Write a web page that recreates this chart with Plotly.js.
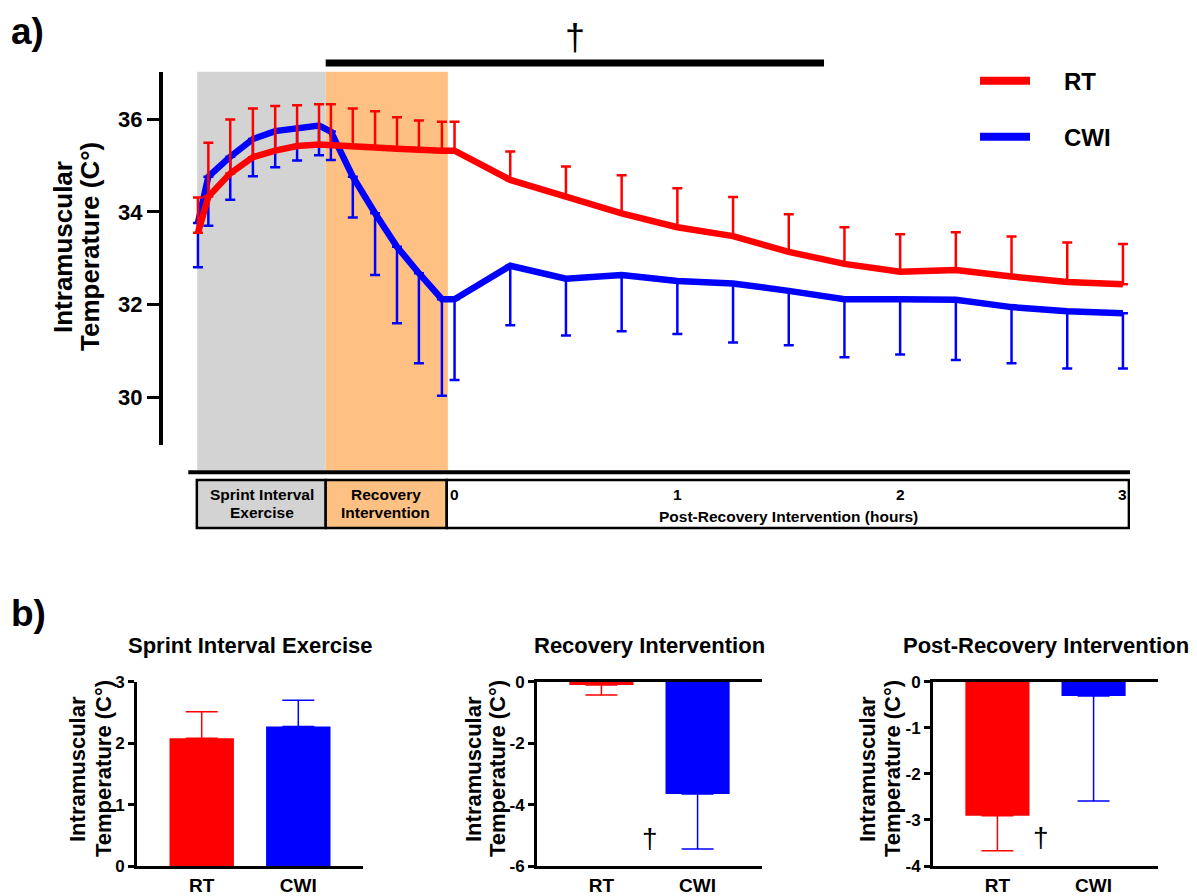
<!DOCTYPE html>
<html><head><meta charset="utf-8">
<script src="https://cdn.plot.ly/plotly-3.0.1.min.js"></script>
<style>html,body{margin:0;padding:0;background:#fff;} #chart{width:1197px;height:896px;}</style>
</head><body><div id="chart"></div>
<script>
// ---------- DATA (panel a) ----------
// time positions (post-recovery in minutes; exercise & recovery samples before 0)
const exerciseTime = [-69.1, -66.3, -60.4, -54.3, -48.3, -42.4, -36.5];
const recoveryTime = [-33.3, -27.4, -21.4, -15.5, -9.6, -3.4];
const postTime = [0, 15, 30, 45, 60, 75, 90, 105, 120, 135, 150, 165, 180];

const rtMean = [33.55, 34.33, 34.83, 35.18, 35.32, 35.42, 35.45,
                35.43, 35.42, 35.39, 35.36, 35.33, 35.32,
                35.32, 34.69, 34.33, 33.97, 33.67, 33.48, 33.14, 32.88, 32.71, 32.75, 32.61, 32.49, 32.44];
const rtUpper = [34.31, 35.49, 35.99, 36.23, 36.28, 36.30, 36.32,
                 36.32, 36.23, 36.17, 36.04, 35.97, 35.94,
                 35.94, 35.30, 34.98, 34.79, 34.51, 34.32, 33.95, 33.67, 33.52, 33.56, 33.47, 33.34, 33.31];
const cwiMean = [33.76, 34.76, 35.19, 35.57, 35.74, 35.80, 35.86,
                 35.73, 34.76, 33.97, 33.25, 32.68, 32.12,
                 32.12, 32.84, 32.56, 32.64, 32.51, 32.46, 32.30, 32.12, 32.12, 32.11, 31.95, 31.86, 31.82];
const cwiLower = [32.81, 33.70, 34.26, 34.77, 34.96, 35.11, 35.22,
                  35.12, 33.88, 32.64, 31.60, 30.74, 30.04,
                  30.38, 31.56, 31.34, 31.43, 31.37, 31.19, 31.13, 30.87, 30.93, 30.81, 30.74, 30.63, 30.63];
const hourLabels = [0, 1, 2, 3];
const yTicksA = [30, 32, 34, 36];
const phaseStart = -69.3, phaseSplit = -34.7, phaseEnd = -1.8;

// ---------- DATA (panel b) ----------
const groups = ['RT', 'CWI'];
const sieChange = [2.08, 2.27];   const sieSD = [0.43, 0.43];
const recChange = [-0.11, -3.66]; const recSD = [0.32, 1.79];
const postChange = [-2.91, -0.31]; const postSD = [0.76, 2.28];
const sieTicks = [0, 1, 2, 3];
const recTicks = [-6, -4, -2, 0];
const postTicks = [-4, -3, -2, -1, 0];

// ---------- helpers ----------
const W = 1197, H = 896;
const PX = x => x / W;
const PY = y => 1 - y / H;
const FAM = 'Liberation Sans, Arial, Helvetica, sans-serif';
const RED = '#ff0000', BLUE = '#0000ff';
const colors = [RED, BLUE];

const timeAll = [...exerciseTime, ...recoveryTime, ...postTime];
const xr0 = -71.7, xr1 = 181.9;

const traces = [];
// CWI first (drawn under RT)
traces.push({
  type: 'scatter', mode: 'lines', x: timeAll, y: cwiMean, xaxis: 'x', yaxis: 'y',
  line: {color: BLUE, width: 6.5}, showlegend: false, hoverinfo: 'skip',
  error_y: {type: 'data', symmetric: false, array: cwiMean.map(() => 0),
            arrayminus: cwiMean.map((m, i) => +(m - cwiLower[i]).toFixed(3)),
            color: BLUE, thickness: 2.5, width: 5}
});
traces.push({
  type: 'scatter', mode: 'lines', x: timeAll, y: rtMean, xaxis: 'x', yaxis: 'y',
  line: {color: RED, width: 6.5}, showlegend: false, hoverinfo: 'skip',
  error_y: {type: 'data', symmetric: false, array: rtMean.map((m, i) => +(rtUpper[i] - m).toFixed(3)),
            arrayminus: rtMean.map(() => 0),
            color: RED, thickness: 2.5, width: 5}
});

const panels = [
  {vals: sieChange, sd: sieSD, ax: 2},
  {vals: recChange, sd: recSD, ax: 3},
  {vals: postChange, sd: postSD, ax: 4}
];
panels.forEach(p => {
  groups.forEach((g, i) => {
    const v = p.vals[i];
    traces.push({
      type: 'bar', x: [g], y: [v], xaxis: 'x' + p.ax, yaxis: 'y' + p.ax,
      width: 0.667, marker: {color: colors[i], line: {width: 0}},
      showlegend: false, hoverinfo: 'skip',
      error_y: {type: 'data', symmetric: false,
                array: [v >= 0 ? p.sd[i] : 0], arrayminus: [v >= 0 ? 0 : p.sd[i]],
                color: colors[i], thickness: 1.5, width: 16}
    });
  });
});

const bY = [PY(866), PY(681.7)];
const bTickFont = {family: FAM, size: 17, color: '#000', weight: 'bold'};
const bCatFont = {family: FAM, size: 19, color: '#000', weight: 'bold'};
function barX(d0, d1, anchor, mirror) {
  return {domain: [PX(d0), PX(d1)], anchor: anchor, type: 'category', categoryarray: groups,
          categoryorder: 'array', range: [-0.67, 1.67], showline: true, linewidth: 3, linecolor: '#000',
          mirror: mirror, ticks: '', tickfont: bCatFont, showgrid: false, zeroline: false, fixedrange: true};
}
function barY(anchor, range, tv) {
  return {domain: bY, anchor: anchor, range: range, tickvals: tv, ticktext: tv.map(v => String(v)),
          showline: true, linewidth: 3,
          linecolor: '#000', ticks: 'outside', ticklen: 6, tickwidth: 3, tickcolor: '#000',
          tickfont: bTickFont, showgrid: false, zeroline: false, fixedrange: true};
}

const shapes = [
  // phase shading
  {type: 'rect', xref: 'x', yref: 'paper', x0: phaseStart, x1: phaseSplit, y0: PY(470), y1: PY(71.7),
   fillcolor: '#d3d3d3', line: {width: 0}, layer: 'below'},
  {type: 'rect', xref: 'x', yref: 'paper', x0: phaseSplit, x1: phaseEnd, y0: PY(470), y1: PY(71.7),
   fillcolor: '#ffc183', line: {width: 0}, layer: 'below'},
  // base line
  {type: 'line', xref: 'x domain', yref: 'paper', x0: 0, x1: 1, y0: PY(472.3), y1: PY(472.3),
   line: {color: '#000', width: 4}},
  // bottom timeline box
  {type: 'rect', xref: 'x', yref: 'paper', x0: phaseStart - 0.1, x1: phaseSplit, y0: PY(528), y1: PY(480),
   fillcolor: '#d3d3d3', line: {color: '#000', width: 2.5}},
  {type: 'rect', xref: 'x', yref: 'paper', x0: phaseSplit, x1: phaseEnd - 0.3, y0: PY(528), y1: PY(480),
   fillcolor: '#ffc183', line: {color: '#000', width: 2.5}},
  {type: 'rect', xref: 'x', yref: 'paper', x0: phaseEnd - 0.3, x1: xr1 - 0.3, y0: PY(528), y1: PY(480),
   fillcolor: '#ffffff', line: {color: '#000', width: 2.5}},
  // significance bar
  {type: 'line', xref: 'x', yref: 'paper', x0: phaseSplit, x1: 99.5, y0: PY(63), y1: PY(63),
   line: {color: '#000', width: 7}},
  // legend
  {type: 'line', xref: 'paper', yref: 'paper', x0: PX(980), x1: PX(1030), y0: PY(80.7), y1: PY(80.7),
   line: {color: RED, width: 8}},
  {type: 'line', xref: 'paper', yref: 'paper', x0: PX(980), x1: PX(1030), y0: PY(136.7), y1: PY(136.7),
   line: {color: BLUE, width: 8}}
];

const ann = [];
function txt(text, x, y, size, opts) {
  ann.push(Object.assign({text: text, x: x, y: y, xref: 'paper', yref: 'paper', showarrow: false,
    xanchor: 'center', yanchor: 'middle', font: {family: FAM, size: size, color: '#000'}}, opts || {}));
}
txt('<b>a)</b>', PX(9), PY(31.5), 37, {xanchor: 'left'});
txt('<b>b)</b>', PX(9), PY(613.5), 37, {xanchor: 'left'});
txt('†', phaseSplit + (99.5 - phaseSplit) / 2, PY(37), 36, {xref: 'x'});
txt('<b>Intramuscular</b>', PX(63), PY(247), 26, {textangle: -90});
txt('<b>Temperature (C°)</b>', PX(90), PY(247), 26, {textangle: -90});
txt('<b>RT</b>', PX(1062), PY(82), 24, {xanchor: 'left'});
txt('<b>CWI</b>', PX(1062), PY(137.5), 24, {xanchor: 'left'});
txt('<b>Sprint Interval</b>', PX(261.7), PY(494.3), 15.5);
txt('<b>Exercise</b>', PX(261.7), PY(512.7), 15.5);
txt('<b>Recovery</b>', PX(385.7), PY(494.3), 15.5);
txt('<b>Intervention</b>', PX(385.7), PY(512.7), 15.5);
hourLabels.forEach(h => txt('<b>' + h + '</b>', h * 60, PY(494.3), 15.5, {xref: 'x'}));
txt('<b>Post-Recovery Intervention (hours)</b>', PX(788), PY(516), 15.5);

// panel b titles
const bTitles = ['Sprint Interval Exercise', 'Recovery Intervention', 'Post-Recovery Intervention'];
const bDom = [[137, 363], [537, 762], [933, 1158]];
const bYT = [[77, 103], [473, 497], [867, 892]];
bTitles.forEach((t, i) => {
  txt('<b>' + t + '</b>', PX((bDom[i][0] + bDom[i][1]) / 2), PY(645), 22);
  txt('<b>Intramuscular</b>', PX(bYT[i][0]), PY(769), 22, {textangle: -90});
  txt('<b>Temperature (C°)</b>', PX(bYT[i][1]), PY(769), 22, {textangle: -90});
});
txt('†', 0.5, -5.09, 28, {xref: 'x3', yref: 'y3'});
txt('†', 0.45, -3.39, 28, {xref: 'x4', yref: 'y4'});

const layout = {
  width: W, height: H, margin: {l: 0, r: 0, t: 0, b: 0},
  paper_bgcolor: '#fff', plot_bgcolor: 'rgba(0,0,0,0)',
  showlegend: false, barmode: 'overlay', font: {family: FAM, color: '#000'},
  xaxis: {domain: [PX(188.3), PX(1130)], range: [xr0, xr1], visible: false, fixedrange: true, anchor: 'y'},
  yaxis: {domain: [PY(445), PY(71.7)], range: [28.98, 37.02], anchor: 'free', position: PX(161),
          tickvals: yTicksA, showline: true, linewidth: 4, linecolor: '#000',
          ticks: 'outside', ticklen: 12, tickwidth: 3, tickcolor: '#000',
          tickfont: {family: FAM, size: 22, color: '#000', weight: 'bold'},
          showgrid: false, zeroline: false, fixedrange: true},
  xaxis2: barX(137, 363, 'y2', false),
  yaxis2: barY('x2', [0, 3], sieTicks),
  xaxis3: barX(537, 762, 'y3', true),
  yaxis3: barY('x3', [-6, 0], recTicks),
  xaxis4: barX(933, 1158, 'y4', true),
  yaxis4: barY('x4', [-4, 0], postTicks),
  shapes: shapes,
  annotations: ann
};

Plotly.newPlot('chart', traces, layout, {staticPlot: true, displayModeBar: false});
</script>
</body></html>
